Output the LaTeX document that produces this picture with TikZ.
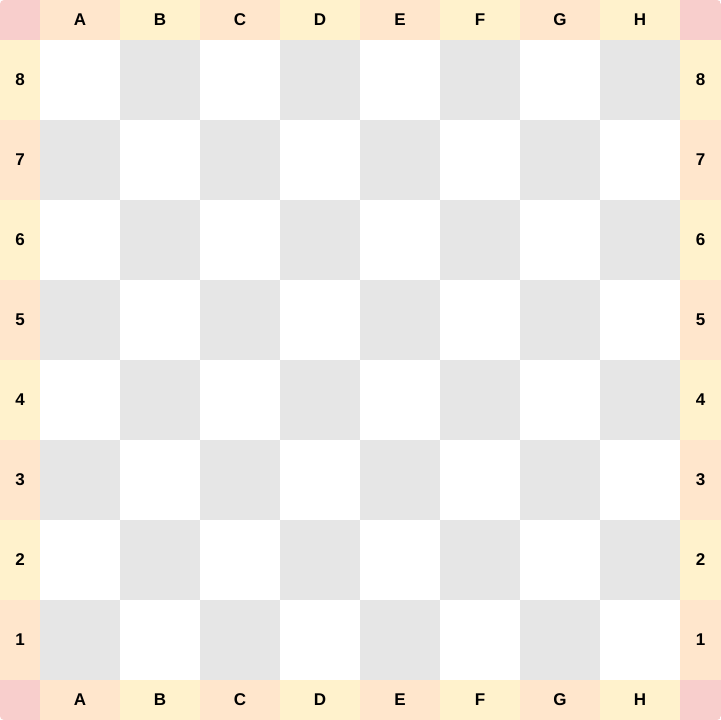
\documentclass[tikz,border=0pt]{standalone}
\usepackage{fontspec}
\setmainfont{Liberation Sans}
\definecolor{peach}{HTML}{FFE6CC}
\definecolor{sand}{HTML}{FFF2CC}
\definecolor{rose}{HTML}{F8CECC}
\definecolor{darksq}{HTML}{E6E6E6}

\begin{document}
\begin{tikzpicture}[x=1pt,y=-1pt,
    square/.style={minimum width=80pt, minimum height=80pt, inner sep=0pt, outer sep=0pt, anchor=north west},
    filebox/.style={minimum width=80pt, minimum height=40pt, inner sep=0pt, outer sep=0pt, anchor=north west,
        font=\fontsize{17}{20}\selectfont\bfseries},
    rankbox/.style={minimum width=40pt, minimum height=80pt, inner sep=0pt, outer sep=0pt, anchor=north west,
        font=\fontsize{17}{20}\selectfont\bfseries}]
    \useasboundingbox (0,0) rectangle (721,720);
    \clip[rounded corners=4pt] (0,0) rectangle (721,720);
    % corners
    \fill[rose] (0,0) rectangle (40,40);
    \fill[rose] (680,0) rectangle (721,40);
    \fill[rose] (0,680) rectangle (40,720);
    \fill[rose] (680,680) rectangle (721,720);
    % squares of the board
    \foreach \j in {0,...,7}
      \foreach \i in {0,...,7} {
        \pgfmathtruncatemacro\odd{mod(\i+\j,2)}
        \ifnum\odd=1 \def\sqcol{darksq}\else\def\sqcol{white}\fi
        \node[square, fill=\sqcol] (sq-\i-\j) at (40+80*\i, 40+80*\j) {};
      }
    % files A--H, top and bottom
    \foreach \c [count=\i from 0] in {A,B,C,D,E,F,G,H} {
        \pgfmathtruncatemacro\odd{mod(\i,2)}
        \ifnum\odd=1 \def\lblcol{sand}\else\def\lblcol{peach}\fi
        \node[filebox, fill=\lblcol] (top-\c) at (40+80*\i, 0) {\c};
        \node[filebox, fill=\lblcol] (bot-\c) at (40+80*\i, 680) {\c};
    }
    % ranks 8--1, left and right
    \foreach \r [count=\j from 0] in {8,7,...,1} {
        \pgfmathtruncatemacro\odd{mod(\j,2)}
        \ifnum\odd=1 \def\lblcol{peach}\else\def\lblcol{sand}\fi
        \node[rankbox, fill=\lblcol] (left-\r) at (0, 40+80*\j) {\r};
        \node[rankbox, minimum width=41pt, fill=\lblcol] (right-\r) at (680, 40+80*\j) {\r};
    }
\end{tikzpicture}
\end{document}
